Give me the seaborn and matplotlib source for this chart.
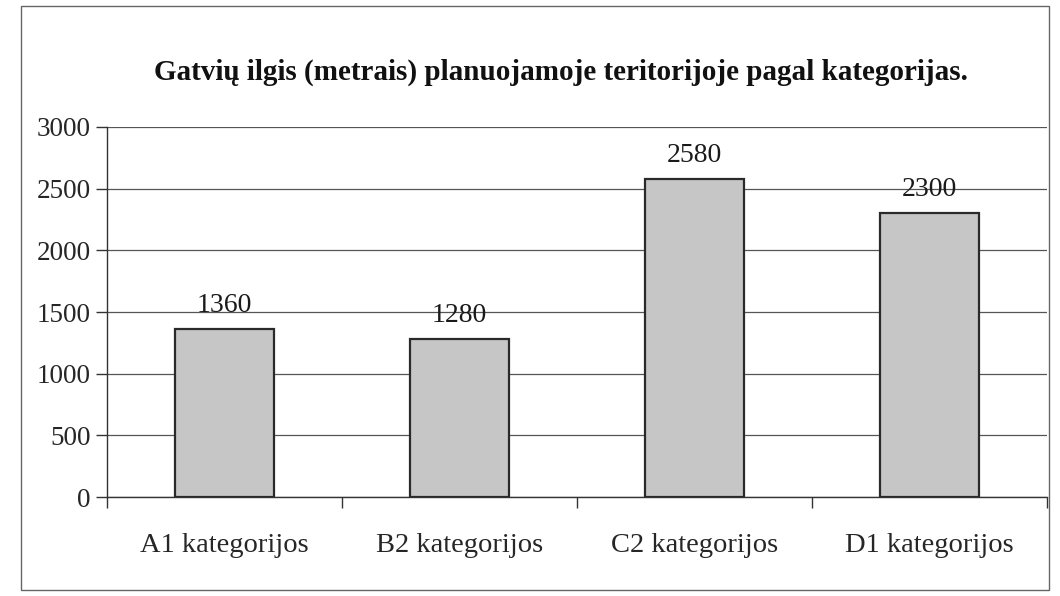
import matplotlib
matplotlib.use("Agg")
import matplotlib.pyplot as plt
import seaborn as sns
import pandas as pd
from matplotlib.patches import Rectangle

categories = ["A1 kategorijos", "B2 kategorijos", "C2 kategorijos", "D1 kategorijos"]
lengths = [1360, 1280, 2580, 2300]
yticks = [0, 500, 1000, 1500, 2000, 2500, 3000]
title = "Gatvių ilgis (metrais) planuojamoje teritorijoje pagal kategorijas."

sns.set_style("white")
plt.rcParams["font.family"] = ["Liberation Serif", "DejaVu Serif"]

df = pd.DataFrame({"kategorija": categories, "ilgis": lengths})

fig = plt.figure(figsize=(10.6, 5.96), dpi=100)
ax = fig.add_axes([0.101, 0.166, 0.887, 0.621])

sns.barplot(data=df, x="kategorija", y="ilgis", ax=ax, color="#c6c6c6",
            saturation=1, width=0.42, edgecolor="#2a2a2a", linewidth=1.6, zorder=3)

ax.set_ylim(0, 3000)
ax.set_xlim(-0.5, len(categories) - 0.5)
ax.set_yticks(yticks)
ax.set_yticklabels([str(t) for t in yticks], fontsize=19.5)
ax.yaxis.grid(True, color="#555555", linewidth=0.9, zorder=0)
ax.set_axisbelow(True)

# x ticks at category boundaries, labels centered
ax.set_xticks(range(len(categories)))
ax.set_xticklabels(categories, fontsize=20.5)
ax.set_xticks([i - 0.5 for i in range(len(categories) + 1)], minor=True)
ax.tick_params(axis="x", which="major", bottom=True, length=0, pad=26)
ax.tick_params(axis="x", which="minor", bottom=True, length=8, width=1,
               color="#333333", direction="out")
ax.tick_params(axis="y", left=True, length=8, width=1, color="#333333",
               direction="out", pad=4)

ax.set_xlabel("")
ax.set_ylabel("")
for side in ["top", "right"]:
    ax.spines[side].set_visible(False)
for side in ["left", "bottom"]:
    ax.spines[side].set_color("#333333")
    ax.spines[side].set_linewidth(1.0)

for i, v in enumerate(lengths):
    ax.text(i, v + 90, str(v), ha="center", va="bottom", fontsize=20, color="#1a1a1a")

fig.text(0.529, 0.878, title, ha="center", va="center", fontsize=21,
         fontweight="bold", color="#111111")

fig.patches.append(Rectangle((0.02, 0.01), 0.97, 0.98, transform=fig.transFigure,
                             fill=False, edgecolor="#666666", linewidth=1.0))

fig.savefig("out.png", dpi=100)
